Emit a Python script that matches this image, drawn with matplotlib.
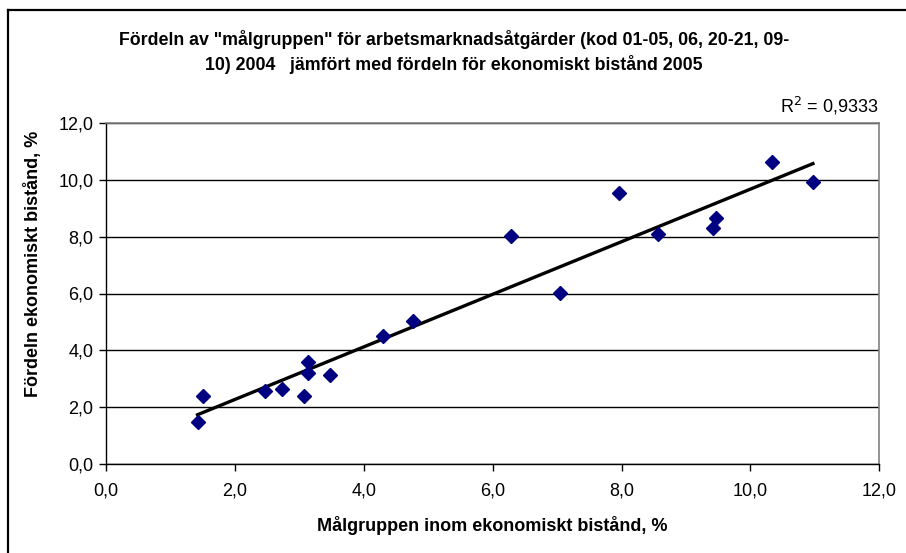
import matplotlib
matplotlib.use("Agg")
import matplotlib.pyplot as plt
import numpy as np
from matplotlib.ticker import FuncFormatter, MultipleLocator
from matplotlib.lines import Line2D

# Data
malgrupp = [1.42, 1.50, 2.46, 2.73, 3.07, 3.14, 3.14, 3.47, 4.30, 4.77,
            6.28, 7.04, 7.96, 8.57, 9.42, 9.47, 10.33, 10.97]
ek_bistand = [1.50, 2.40, 2.57, 2.66, 2.40, 3.58, 3.22, 3.14, 4.51, 5.04,
              8.02, 6.03, 9.52, 8.08, 8.29, 8.64, 10.63, 9.91]
r2_text = "0,9333"

title = ('Fördeln av "målgruppen" för arbetsmarknadsåtgärder (kod 01-05, 06, 20-21, 09-\n'
         '10) 2004   jämfört med fördeln för ekonomiskt bistånd 2005')
xlabel = "Målgruppen inom ekonomiskt bistånd, %"
ylabel = "Fördeln ekonomiskt bistånd, %"

plt.rcParams['font.family'] = ['Liberation Sans', 'DejaVu Sans']

fig = plt.figure(figsize=(9.06, 5.53), dpi=100)
ax = fig.add_axes([106/906, 1-464.3/553, (879.3-106)/906, (464.3-122.7)/553])

x = np.array(malgrupp)
y = np.array(ek_bistand)

ax.set_xlim(0, 12)
ax.set_ylim(0, 12)
ax.xaxis.set_major_locator(MultipleLocator(2))
ax.yaxis.set_major_locator(MultipleLocator(2))
fmt = FuncFormatter(lambda v, p: f"{v:.1f}".replace(".", ","))
ax.xaxis.set_major_formatter(fmt)
ax.yaxis.set_major_formatter(fmt)

ax.yaxis.grid(True, color="#000000", linewidth=1.0)
ax.set_axisbelow(True)

# trendline (linear least squares over data range)
k, m = np.polyfit(x, y, 1)
xt = np.array([x.min(), x.max()])
ax.plot(xt, k*xt + m, color="black", linewidth=2.4, zorder=3)

ax.plot(x, y, linestyle="none", marker="D", markersize=6.8,
        color="#000080", markeredgecolor="#000080", zorder=4)

for s in ["top", "right"]:
    ax.spines[s].set_color("#808080")
    ax.spines[s].set_linewidth(1.2)
for s in ["left", "bottom"]:
    ax.spines[s].set_color("#000000")
    ax.spines[s].set_linewidth(1.0)

ax.tick_params(axis="both", direction="out", length=5, width=1, color="black",
               labelsize=13, pad=4)
ax.tick_params(axis="x", pad=8)

ax.set_xlabel(xlabel, fontsize=13, fontweight="bold", labelpad=12)
ax.set_ylabel(ylabel, fontsize=13, fontweight="bold")
ax.yaxis.set_label_coords((42-106)/773.3, (464.3-264)/341.6)

fig.text(454/906, 1-52/553, title, ha="center", va="center", fontsize=12.8,
         fontweight="bold", linespacing=1.45)

fig.text(878/906, 1-106/553, r"R$^{2}$ = " + r2_text, ha="right", va="center",
         fontsize=13)

# outer chart border (left and top visible)
fig.add_artist(Line2D([7.5/906, 7.5/906], [0, 1-10/553], transform=fig.transFigure,
                      color="black", linewidth=1.6))
fig.add_artist(Line2D([7.5/906, 1], [1-10/553, 1-10/553], transform=fig.transFigure,
                      color="black", linewidth=1.6))

fig.savefig("out.png", dpi=100, facecolor="white")
